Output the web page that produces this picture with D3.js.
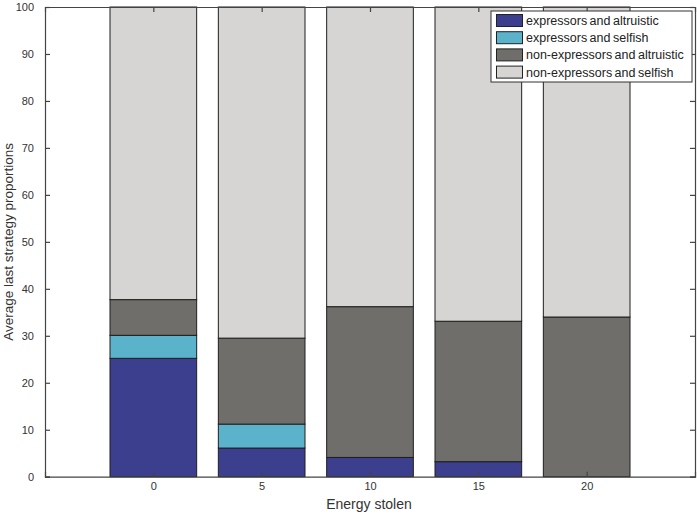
<!DOCTYPE html>
<html><head><meta charset="utf-8">
<script src="https://cdn.jsdelivr.net/npm/d3@7"></script>
<style>body{margin:0;background:#fff;}svg{display:block;font-family:"Liberation Sans",Arial,sans-serif;}</style>
</head><body>
<svg id="c" width="697" height="514"></svg>
<script>
const categories = [0, 5, 10, 15, 20];
const seriesNames = ["expressors and altruistic", "expressors and selfish", "non-expressors and altruistic", "non-expressors and selfish"];
const exprAltruistic = [25.2, 6.1, 4.1, 3.2, 0];
const exprSelfish = [4.9, 5.1, 0, 0, 0];
const nonExprAltruistic = [7.6, 18.3, 32.1, 29.9, 34.0];
const nonExprSelfish = [62.3, 70.5, 63.8, 66.9, 66.0];
const yTicks = [0,10,20,30,40,50,60,70,80,90,100];
const colors = ["#3b3f8d", "#5bb3cb", "#6f6e6a", "#d6d5d3"];

const svg = d3.select("#c");
const L = 45, R = 695, T = 7, B = 476.7;
const x = d3.scaleLinear().domain([-5, 25]).range([L, R]);
const y = d3.scaleLinear().domain([0, 100]).range([B, T]);
const axisCol = "#444";

const table = categories.map((c, i) => ({cat: c, s0: exprAltruistic[i], s1: exprSelfish[i], s2: nonExprAltruistic[i], s3: nonExprSelfish[i]}));
const stack = d3.stack().keys(["s0","s1","s2","s3"])(table);
const bw = 4;

stack.forEach((layer, k) => {
  svg.append("g").selectAll("rect").data(layer.filter(d => d[1] - d[0] > 0)).join("rect")
    .attr("x", d => x(d.data.cat - bw/2))
    .attr("width", d => x(bw) - x(0))
    .attr("y", d => y(d[1]))
    .attr("height", d => y(d[0]) - y(d[1]))
    .attr("fill", colors[k])
    .attr("stroke", "#1e1e1e")
    .attr("stroke-width", 1);
});

// axes
const gx = svg.append("g").attr("transform", `translate(0,${B})`)
  .call(d3.axisBottom(x).tickValues(categories).tickSize(-5).tickPadding(6));
const gy = svg.append("g").attr("transform", `translate(${L},0)`)
  .call(d3.axisLeft(y).tickValues(yTicks).tickSize(-5).tickPadding(11));
const gt = svg.append("g").attr("transform", `translate(0,${T})`)
  .call(d3.axisTop(x).tickValues(categories).tickSize(-5).tickFormat(""));
const gr = svg.append("g").attr("transform", `translate(${R},0)`)
  .call(d3.axisRight(y).tickValues(yTicks).tickSize(-5).tickFormat(""));
[gx, gy, gt, gr].forEach(g => {
  g.selectAll("path.domain").attr("stroke", axisCol).attr("stroke-width", 1.2);
  g.selectAll(".tick line").attr("stroke", axisCol).attr("stroke-width", 1.2);
  g.selectAll(".tick text").attr("fill", "#333").style("font-size", "11px").style("font-family", "'Liberation Sans',Arial,sans-serif");
});

svg.append("text").attr("x", (L+R)/2 - 1).attr("y", 509).attr("text-anchor", "middle")
  .style("font-size", "14px").attr("fill", "#333").text("Energy stolen");
svg.append("text").attr("transform", `translate(12.5,${(T+B)/2}) rotate(-90)`).attr("text-anchor", "middle")
  .style("font-size", "13.5px").attr("fill", "#333").text("Average last strategy proportions");

// legend
const lg = svg.append("g").attr("transform", "translate(491,11)");
lg.append("rect").attr("width", 201).attr("height", 71).attr("fill", "#fff").attr("stroke", "#333").attr("stroke-width", 1);
seriesNames.forEach((n, i) => {
  const ry = 3.5 + i * 17.2;
  lg.append("rect").attr("x", 5.5).attr("y", ry).attr("width", 26).attr("height", 12)
    .attr("fill", colors[i]).attr("stroke", "#222").attr("stroke-width", 1);
  lg.append("text").attr("x", 35).attr("y", ry + 10.5).style("font-size", "12.5px").attr("fill", "#222")
    .style("word-spacing", "-1px").text(n);
});
</script>
</body></html>
